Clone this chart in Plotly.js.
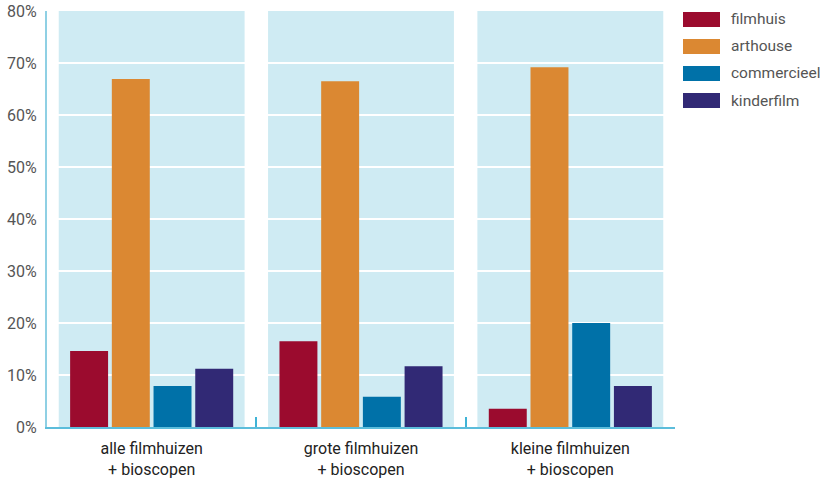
<!DOCTYPE html>
<html><head><meta charset="utf-8">
<script src="https://cdn.plot.ly/plotly-3.0.1.min.js"></script>
<style>html,body{margin:0;padding:0;background:#fff}#chart{width:827px;height:479px}</style>
</head><body><div id="chart"></div>
<script>
var categories = ["alle filmhuizen<br>+ bioscopen", "grote filmhuizen<br>+ bioscopen", "kleine filmhuizen<br>+ bioscopen"];
var seriesNames = ["filmhuis", "arthouse", "commercieel", "kinderfilm"];
var filmhuis = [14.6, 16.5, 3.5];
var arthouse = [66.9, 66.5, 69.2];
var commercieel = [7.9, 5.8, 20.0];
var kinderfilm = [11.2, 11.7, 7.9];
var colors = ["#9b0b2e", "#db8832", "#0071a8", "#312975"];
var yTicks = [0, 10, 20, 30, 40, 50, 60, 70, 80];

var seriesValues = [filmhuis, arthouse, commercieel, kinderfilm];
var traces = seriesValues.map(function (vals, i) {
  return {type: "bar", x: categories, y: vals, name: seriesNames[i],
          marker: {color: colors[i]}, showlegend: false, hoverinfo: "none"};
});

var shapes = categories.map(function (c, i) {
  return {type: "rect", xref: "x", yref: "paper", x0: i - 0.444, x1: i + 0.444, y0: 0, y1: 1,
          fillcolor: "#cfebf3", line: {width: 0}, layer: "below"};
});
var annotations = [];
seriesNames.forEach(function (n, i) {
  var top = 12 + i * 27;
  shapes.push({type: "rect", xref: "paper", yref: "paper",
    x0: (683 - 47) / 628, x1: (720 - 47) / 628,
    y0: 1 - (top + 15 - 11) / 416, y1: 1 - (top - 11) / 416,
    fillcolor: colors[i], line: {width: 0}});
  annotations.push({xref: "paper", yref: "paper", x: (729 - 47) / 628, y: 1 - (top + 7.5 - 11) / 416,
    xanchor: "left", yanchor: "middle", showarrow: false, text: n,
    font: {family: "Roboto", size: 15.5, color: "#555"}});
});

var layout = {
  width: 827, height: 479,
  margin: {l: 47, r: 152, t: 11, b: 52},
  paper_bgcolor: "#fff", plot_bgcolor: "#fff",
  barmode: "group", bargap: 0.203, bargroupgap: 0.09,
  font: {family: "Roboto", color: "#333"},
  showlegend: false,
  xaxis: {type: "category", showline: true, linecolor: "#5cbddb", linewidth: 2,
          ticks: "inside", tickson: "boundaries", ticklen: 10, tickcolor: "#3fb3d6", tickwidth: 2,
          ticklabelstandoff: 6,
          showgrid: false, tickfont: {family: "Roboto", size: 16, color: "#222"}, range: [-0.5, 2.5]},
  yaxis: {range: [0, 80], tickvals: yTicks, ticktext: yTicks.map(function (v) { return v + "%"; }),
          showline: true, linecolor: "#8fd0e4", linewidth: 2, showgrid: true, gridcolor: "#ffffff", gridwidth: 2,
          zeroline: false, ticks: "", ticklen: 0, ticklabelstandoff: 5,
          tickfont: {family: "Roboto", size: 16, color: "#555"}},
  shapes: shapes, annotations: annotations
};
Plotly.newPlot("chart", traces, layout, {staticPlot: true, displayModeBar: false});
</script></body></html>
